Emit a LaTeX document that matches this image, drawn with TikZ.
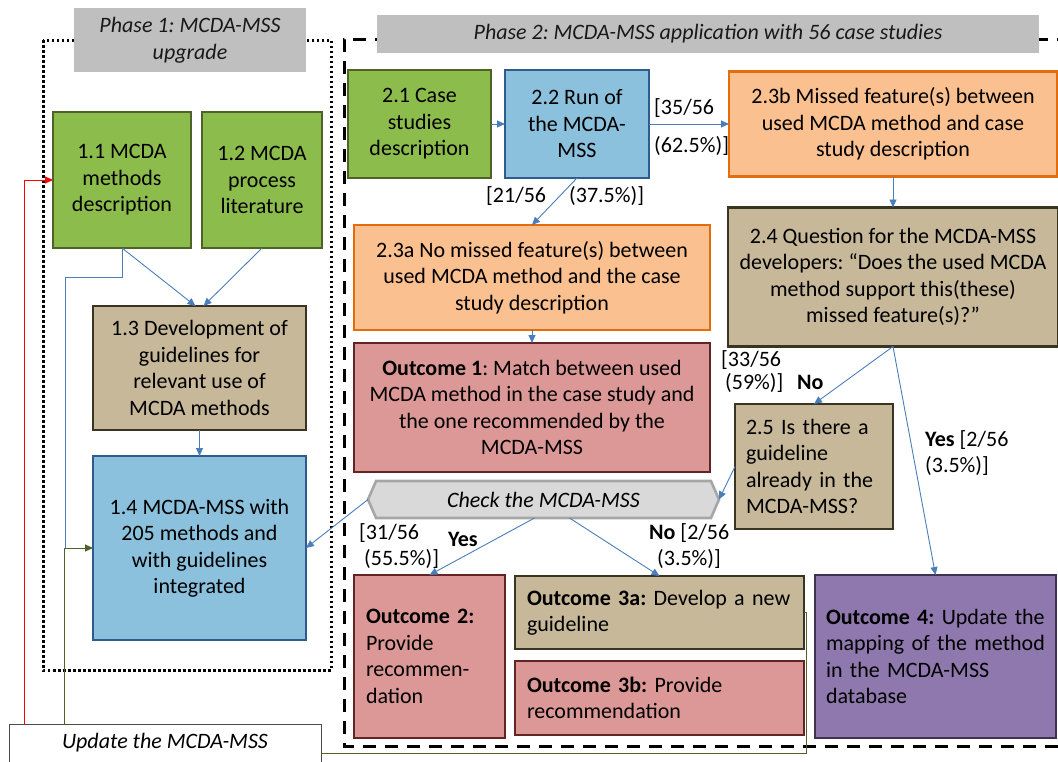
\documentclass[tikz,border=0pt]{standalone}
\usepackage{fontspec}
\setmainfont{Carlito}
\usetikzlibrary{arrows.meta,positioning,shapes.symbols}
\definecolor{mgreen}{HTML}{8CBC4C}
\definecolor{mgreenln}{HTML}{4F6228}
\definecolor{mblue}{HTML}{8BC1DC}
\definecolor{mblueln}{HTML}{2F5C8F}
\definecolor{morange}{HTML}{FBC08F}
\definecolor{morangeln}{HTML}{E46C0A}
\definecolor{mtan}{HTML}{C6B898}
\definecolor{mtanln}{HTML}{3A3522}
\definecolor{msalmon}{HTML}{DC9896}
\definecolor{msalmonln}{HTML}{632523}
\definecolor{mpurple}{HTML}{8F78AE}
\definecolor{mpurpleln}{HTML}{3F3151}
\definecolor{mgrey}{HTML}{BFBFBF}
\definecolor{mchk}{HTML}{D9D9D9}
\definecolor{mchkln}{HTML}{A6A6A6}
\definecolor{mline}{HTML}{4A7EBB}
\newcommand{\mfont}{\fontsize{22pt}{26.5pt}\selectfont}
\frenchspacing

\begin{document}
\begin{tikzpicture}[x=1pt, y=-1pt,
  box/.style={draw, line width=2.6pt, outer sep=0pt, inner sep=0pt,
              align=center, font=\mfont, text=black},
  lbox/.style={align=left, inner xsep=12pt},
  gbox/.style={box, fill=mgreen, draw=mgreenln},
  bbox/.style={box, fill=mblue, draw=mblueln},
  obox/.style={box, fill=morange, draw=morangeln},
  tbox/.style={box, fill=mtan, draw=mtanln},
  sbox/.style={box, fill=msalmon, draw=msalmonln},
  pbox/.style={box, fill=mpurple, draw=mpurpleln},
  phase/.style={fill=mgrey, font=\mfont\itshape, align=center, inner sep=0pt, text=black!90},
  checkbox/.style={signal, signal to=east and west, signal pointer angle=133,
                   draw=mchkln, fill=mchk, line width=2.6pt, inner sep=0pt,
                   outer sep=0pt, font=\mfont\itshape},
  arrow/.style={-{Triangle[length=8pt,width=7pt]}, mline, line width=0.9pt},
  lbl/.style={font=\mfont, inner sep=0pt, anchor=base west},
]
  \useasboundingbox (0,0) rectangle (1058,761);
  \clip (0,0) rectangle (1058,761);

  %% Rahmen der beiden Phasen
  \draw[line width=3pt, dash pattern=on 2.5pt off 2.5pt] (43,40) rectangle (331,670);
  \draw[line width=3pt, dash pattern=on 13pt off 9pt] (1070,39) -| (344,746) -- (1070,746);

  \node[phase, minimum width=232pt, minimum height=64pt] (ph1) at (190,40)
    {Phase 1: MCDA-MSS\\upgrade};
  \node[phase, minimum width=662pt, minimum height=38pt] (ph2) at (708,34)
    {Phase 2: MCDA-MSS application with 56 case studies};

  %% Phase 1
  \node[gbox, minimum width=138pt, minimum height=136pt] (m11) at (122,180)
    {1.1 MCDA\\methods\\description};
  \node[gbox, minimum width=120pt, minimum height=136pt, right=11pt of m11] (m12)
    {1.2 MCDA\\process\\literature};
  \node[tbox, minimum width=213pt, minimum height=124pt] (m13) at (199.5,368)
    {1.3 Development of\\guidelines for\\relevant use of\\MCDA methods};
  \node[bbox, minimum width=213pt, minimum height=184pt, below=26pt of m13] (m14)
    {1.4 MCDA-MSS with\\205 methods and\\with guidelines\\integrated};
  \node[draw=black!70, line width=1pt, fill=white, font=\mfont\itshape, inner sep=0pt,
        minimum width=312pt, minimum height=38pt] (update) at (165,743)
    {Update the MCDA-MSS};

  %% Phase 2
  \node[gbox, minimum width=143pt, minimum height=108pt] (m21) at (419.5,124)
    {2.1 Case\\studies\\description};
  \node[bbox, minimum width=144pt, minimum height=108pt, right=14pt of m21] (m22)
    {2.2 Run of\\the MCDA-\\MSS};
  \node[obox, minimum width=328pt, minimum height=105pt, right=80pt of m22] (m23b)
    {2.3b Missed feature(s) between\\used MCDA method and case\\study description};
  \node[tbox, minimum width=330pt, minimum height=139pt, below=31pt of m23b] (m24)
    {2.4 Question for the MCDA-MSS\\developers: “Does the used MCDA\\method support this(these)\\missed feature(s)?”};
  \node[obox, minimum width=356pt, minimum height=105pt] (m23a) at (532,277.5)
    {2.3a No missed feature(s) between\\used MCDA method and the case\\study description};
  \node[sbox, minimum width=356pt, minimum height=129pt, below=13pt of m23a] (o1)
    {\textbf{Outcome 1}: Match between used\\MCDA method in the case study and\\the one recommended by the\\MCDA-MSS};
  \node[tbox, lbox, inner xsep=11pt, text width=136pt, minimum width=158pt,
        minimum height=125pt] (m25) at (814,466.5)
    {2.5 Is there a\\guideline\\already in the\\MCDA-MSS?};
  \node[checkbox, minimum width=351pt, minimum height=37pt] (check) at (543.5,499.5)
    {Check the MCDA-MSS};
  \node[sbox, lbox, text width=127pt, minimum width=151pt, minimum height=163pt] (o2) at (429.5,656.5)
    {\textbf{Outcome 2:}\\Provide\\recommen-\\dation};
  \node[tbox, lbox, text width=265pt, minimum width=289pt, minimum height=73pt] (o3a) at (659.5,612.5)
    {\textbf{Outcome 3a:} Develop a new\\guideline};
  \node[sbox, lbox, text width=265pt, minimum width=289pt, minimum height=74pt, below=12pt of o3a] (o3b)
    {\textbf{Outcome 3b:} Provide\\recommendation};
  \node[pbox, lbox, inner xsep=11pt, text width=219pt, minimum width=241pt, minimum height=163pt] (o4) at (935.5,656.5)
    {\textbf{Outcome 4:} Update the\\mapping of the method\\in the MCDA-MSS\\database};

  %% Anteile an den Pfeilen
  \node[lbl] (n35) at (654,114) {[35/56};
  \node[lbl] (n625) at (654,152) {(62.5\%)]};
  \node[lbl] (n21) at (486,202) {[21/56};
  \node[lbl] (n375) at (569,202) {(37.5\%)]};
  \node[lbl] (n33) at (721,366) {[33/56};
  \node[lbl] (n59) at (725,389) {(59\%)]};
  \node[lbl, font=\mfont\bfseries] (nno1) at (797,389) {No};
  \node[lbl] (nyes1) at (925,446) {\textbf{Yes} [2/56};
  \node[lbl] (n35b) at (925,472) {(3.5\%)]};
  \node[lbl] (n31) at (359,539) {[31/56};
  \node[lbl] (n555) at (364,565) {(55.5\%)]};
  \node[lbl, font=\mfont\bfseries] (nyes2) at (448,546) {Yes};
  \node[lbl] (nno2) at (649,539) {\textbf{No} [2/56};
  \node[lbl] (n35c) at (657,565) {(3.5\%)]};

  %% Pfeile
  \draw[arrow] (m11.south) -- ([xshift=-4pt]m13.north);
  \draw[arrow] (m12.south) -- ([xshift=4pt]m13.north);
  \draw[arrow] (m13) -- (m14);
  \draw[mline, line width=0.9pt] (m11.south) -- ++(0,29) -| ([xshift=-28pt]m14.west);
  \draw[arrow, mgreenln] ([xshift=56pt]update.north west) |- (m14.west);
  \draw[arrow, red] ([xshift=16pt]update.north west) |- (m11.west);
  \draw[mgreenln, line width=0.9pt] (o3a.east) -- ++(2,0) |- ([yshift=-10pt]update.east);
  \draw[arrow] (m21) -- (m22);
  \draw[arrow] (m22) -- (m23b);
  \draw[arrow] (m22.south) -- (m23a.north);
  \draw[arrow] (m23a) -- (o1);
  \draw[arrow] (m23b) -- (m24);
  \draw[arrow] (m24.south) -- (m25.north);
  \draw[arrow] (m24.south) -- (o4.north);
  \draw[arrow] (m25.west) -- (check.east);
  \draw[arrow] (check.west) -- (m14.east);
  \draw[arrow] ([xshift=-9pt]check.south) -- (o2.north);
  \draw[arrow] ([xshift=26pt]check.south) -- (o3a.north);

\end{tikzpicture}
\end{document}
